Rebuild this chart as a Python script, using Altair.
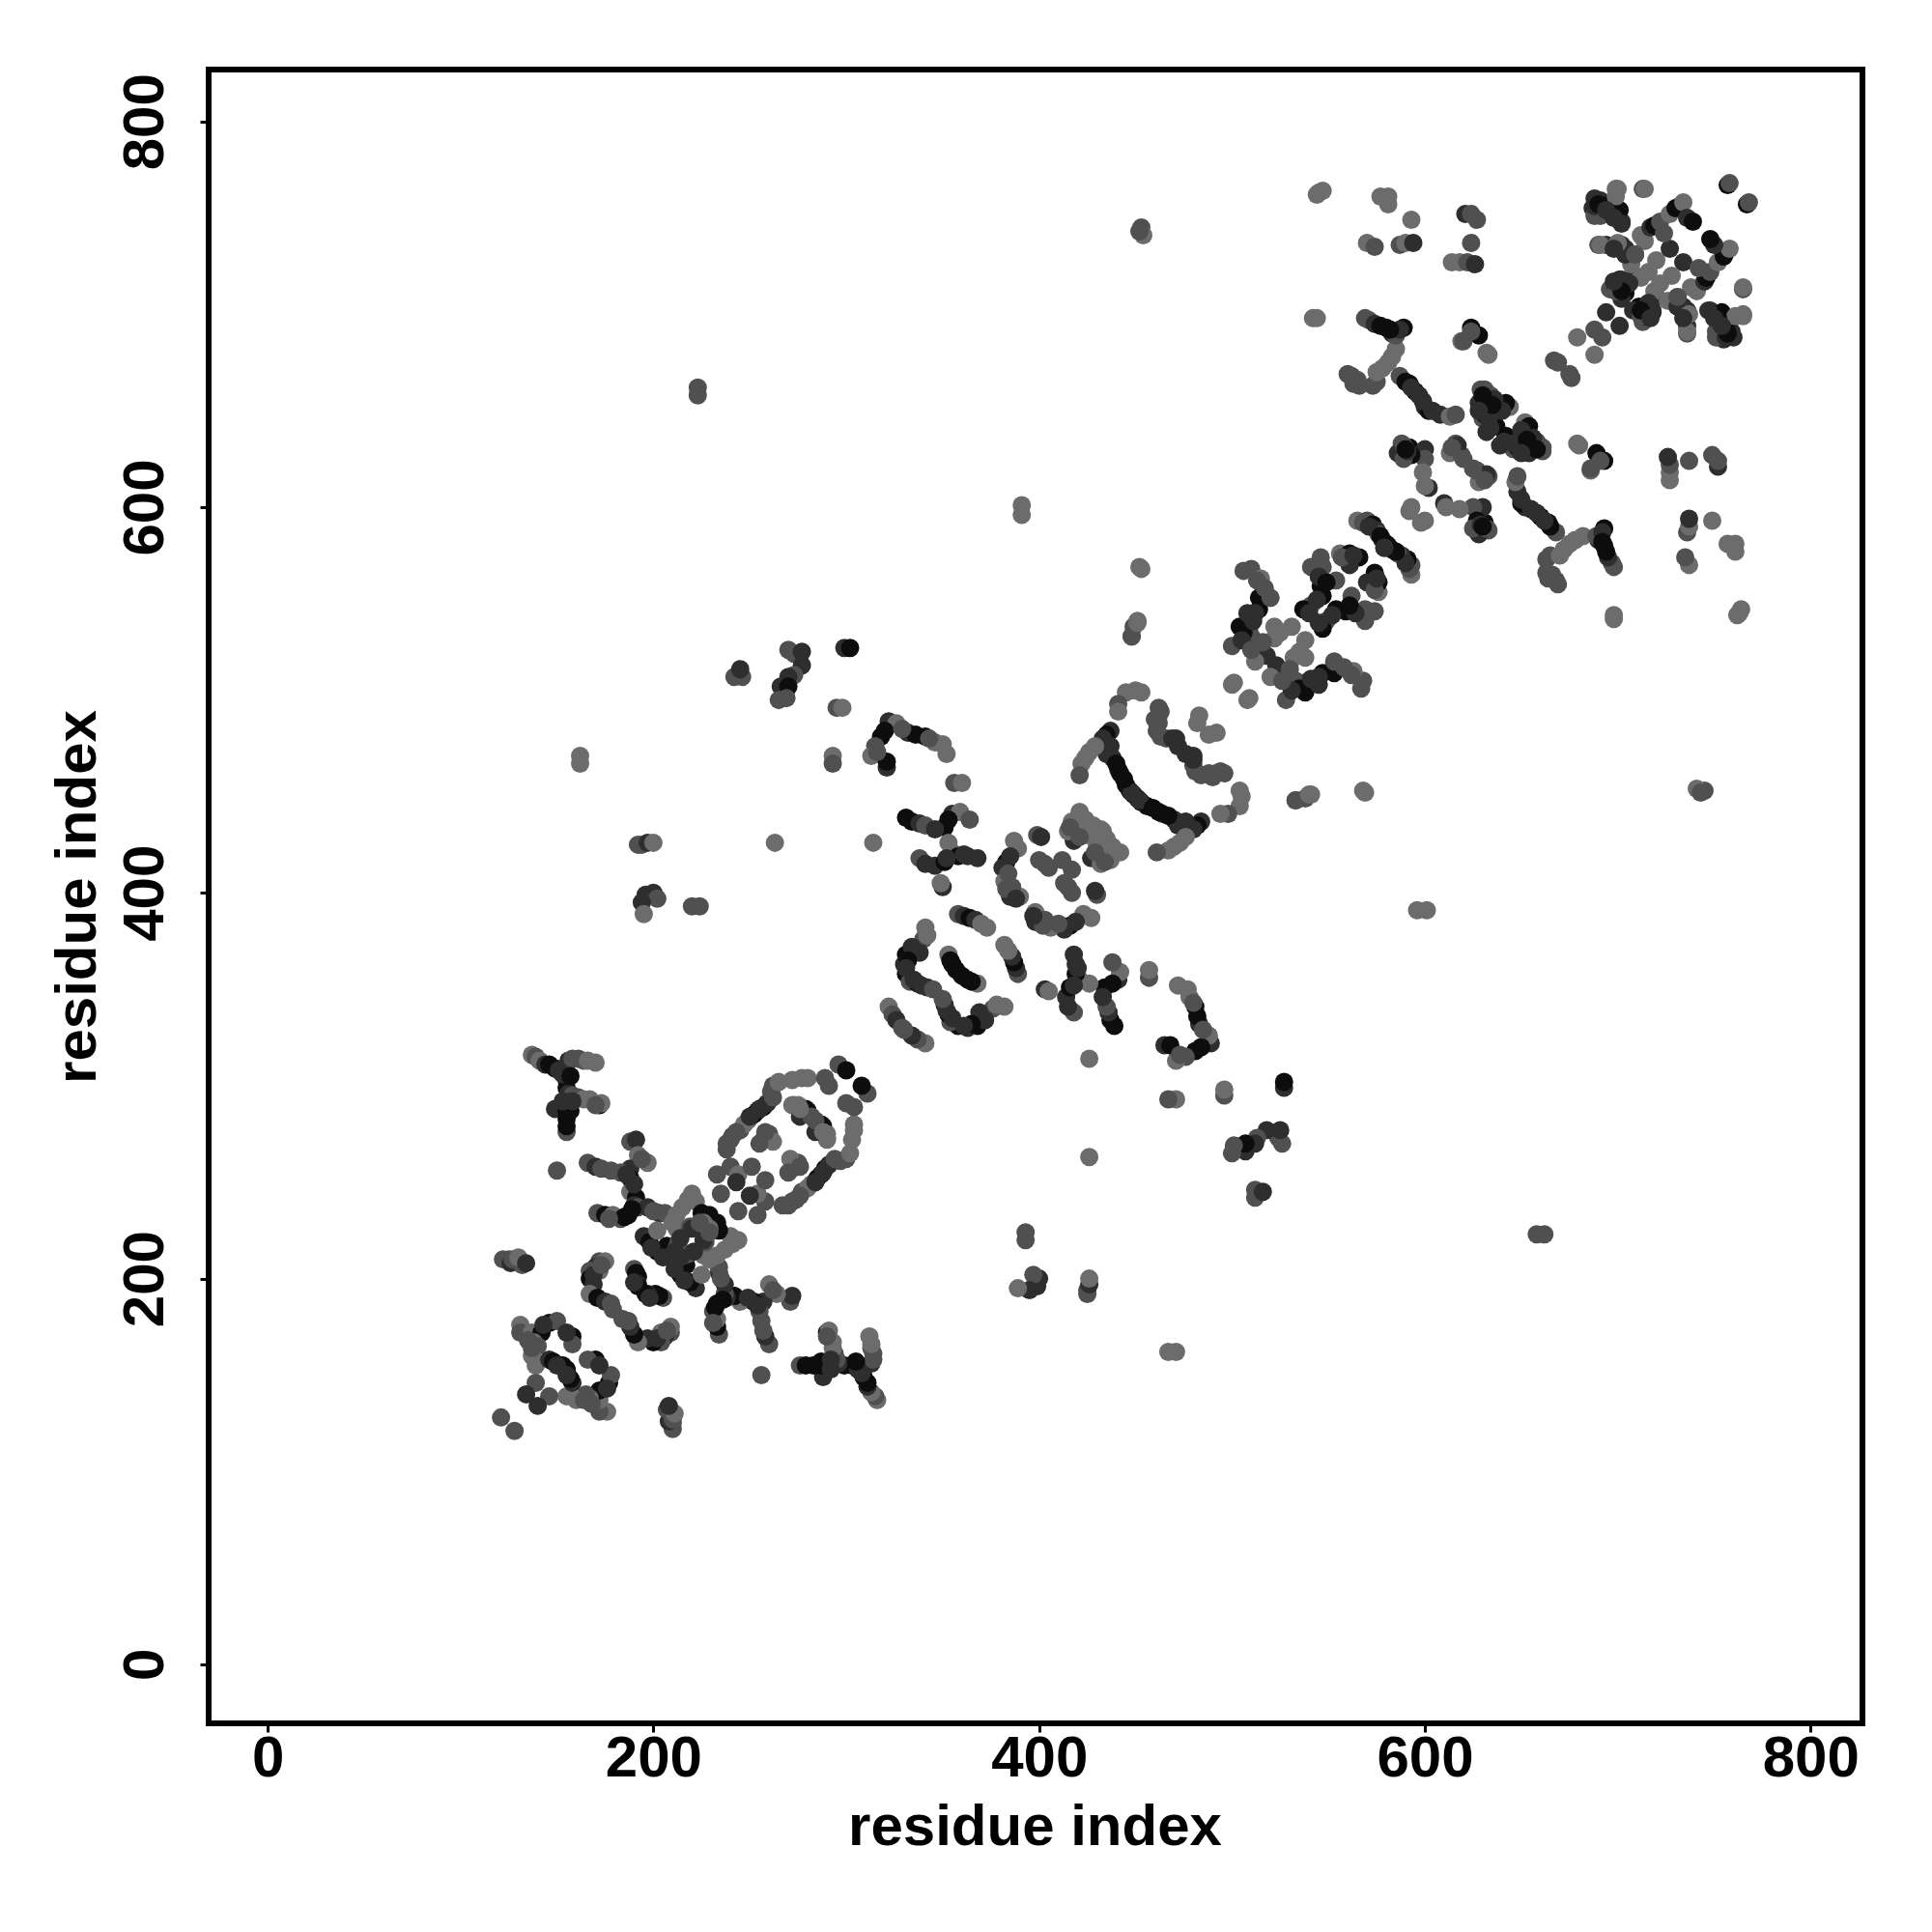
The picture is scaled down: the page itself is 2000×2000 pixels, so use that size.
import altair as alt
import pandas as pd

# Contact map: each contact (residue i, residue j, shade class) read for i < j; the map holds both (i,j) and (j,i).
tick_values = [0, 200, 400, 600, 800]
shades = {0: "#0d0d0d", 1: "#2e2e2e", 2: "#505050", 3: "#6c6c6c"}

low_diagonal = [
    (131,176,3),(131,172,2),(137,172,3),(142,172,0),(146,177,0),(150,178,2),(138,167,3),(140,165,2),
    (158,170,0),(158,166,2),(137,160,3),(139,155,3),(146,158,1),(148,157,0),(152,155,0),(155,153,0),
    (139,146,2),(134,140,1),(121,128,2),(135,168,2),(137,164,2),(143,176,1),(155,172,1),(150,155,1),
]
left_group = [(122,210,2),(125,210,2),(126,208,1),(127,210,2),(132,207,2),(130,211,3),(134,208,1)]
t_shape_a = [
    (137,316,3),(139,315,2),(141,313,3),(144,311,1),(146,311,0),(149,309,0),(151,308,1),(155,307,0),
    (156,313,1),(158,314,2),(161,314,2),(164,313,2),(166,313,3),(170,312,3),(155,303,0),(155,299,0),
    (156,296,1),(158,295,2),(161,294,2),(164,293,3),(167,293,3),(172,290,0),(173,291,3),(149,288,1),
    (152,288,1),(155,276,2),(155,287,0),(157,287,0),(155,283,0),(155,279,0),(150,256,2),(153,306,1),
    (157,305,0),(153,292,1),(158,292,1),(170,290,2),
]
t_shape_b = [
    (188,271,2),(191,272,1),(192,264,3),(197,260,3),(188,257,1),(188,252,0),(166,260,2),(170,258,1),
    (173,257,2),(178,256,2),(183,255,2),(188,245,3),(191,242,0),(190,238,1),(187,233,0),(192,237,2),
    (197,237,1),(203,234,1),(206,234,2),(171,234,2),(175,233,0),(179,233,3),(183,231,2),(185,232,0),
    (186,254,1),(190,249,1),(194,262,2),(189,236,0),(200,235,2),(177,231,2),
]
center_diagonal = [
    (195,222,1),(198,219,0),(202,225,3),(207,217,0),(202,214,0),(205,211,1),(210,229,3),(212,226,3),
    (212,233,3),(215,237,3),(218,241,3),(220,244,3),(222,240,3),(219,227,2),(225,234,0),(229,233,0),
    (213,219,2),(216,212,2),(226,220,1),(221,214,1),(229,226,3),(224,229,2),(199,216,1),(211,214,1),
]
curve_d = [
    (172,209,2),(175,209,3),(170,206,1),(167,204,2),(172,204,3),(167,200,0),(169,197,1),(167,192,3),
    (171,190,0),(175,188,1),(178,187,2),(179,184,2),(190,205,2),(191,203,0),(192,201,0),(192,197,1),
    (196,192,0),(198,190,1),(169,202,1),(173,207,2),
]
first_loop = [
    (238,267,2),(238,270,2),(241,274,2),(245,277,2),(247,280,3),(249,282,3),(252,285,0),(254,287,0),
    (257,289,0),(259,291,1),(262,294,2),(262,300,2),(272,303,3),(277,304,3),(280,304,3),(272,290,3),
    (277,288,0),(279,288,0),(287,280,0),(290,273,3),(289,304,2),(291,300,2),(296,311,2),(300,308,0),
    (257,272,2),(260,275,2),(262,271,3),(233,254,2),(240,258,2),(244,254,3),(251,258,2),(235,244,2),
    (243,250,1),(276,284,1),(284,282,2),(240,272,2),(243,276,2),(250,284,1),(255,288,1),(261,297,2),
    (265,302,3),(275,290,3),(288,276,3),(258,276,2),(255,270,2),
]
far_upper_left = [
    (162,471,3),(162,467,3),(192,425,2),(194,425,2),(197,426,1),(200,426,3),(196,399,1),(200,400,1),
    (202,397,2),(194,395,1),(195,389,3),(220,393,2),(224,393,2),(263,426,3),(314,426,3),(293,471,3),
    (293,467,2),(295,496,2),(298,496,3),(242,512,2),(246,512,2),(245,516,1),(270,526,2),(273,524,2),
    (277,525,1),(277,518,1),(273,513,2),(270,512,1),(266,507,1),(270,507,0),(265,500,2),(269,501,2),
    (299,527,1),(302,527,0),(223,662,2),(223,658,2),(391,601,3),(391,596,3),
]
curve_j = [
    (322,489,1),(326,488,3),(318,481,0),(315,476,2),(313,471,3),(321,465,1),(321,468,0),(332,483,1),
    (336,482,0),(341,481,0),(346,478,3),(350,477,3),(352,472,3),(356,457,2),(360,457,3),(320,484,0),
    (316,473,2),(329,485,2),(343,480,2),
]
group_k = [
    (331,439,0),(334,437,0),(338,436,1),(341,435,2),(351,434,0),(355,441,1),(359,442,3),(364,438,2),
    (353,426,3),(338,418,2),(341,415,1),(346,414,1),(351,416,0),(355,421,3),(358,419,0),(361,420,1),
    (368,418,1),(350,403,1),(349,405,3),(353,438,0),(352,418,1),(346,433,1),(363,419,1),
]
second_loop = [
    (387,427,3),(389,423,3),(383,416,0),(381,413,1),(382,406,3),(385,398,1),(390,398,3),(386,403,2),
    (399,430,2),(401,429,1),(400,417,2),(403,415,2),(405,413,2),(412,417,2),(421,442,3),(417,437,3),
    (424,438,3),(428,435,3),(418,427,1),(415,432,3),(423,436,3),(416,434,2),(425,430,3),(385,419,1),
    (384,410,2),(383,402,2),(388,397,1),(421,429,2),(432,433,3),
]
third_loop = [
    (341,382,3),(340,376,2),(338,369,1),(331,368,0),(330,363,1),(331,358,0),(333,354,2),(337,353,0),
    (342,351,1),(353,368,3),(355,363,0),(357,360,0),(322,341,3),(324,337,2),(326,334,1),(329,330,2),
    (358,389,2),(361,388,1),(364,387,0),(367,386,1),(370,384,3),(373,382,3),(334,372,1),(332,365,0),
    (331,361,1),(335,355,1),(339,352,1),(345,350,2),(354,365,0),(342,378,3),
]
band_q = [
    (445,504,3),(450,505,3),(453,504,3),(441,498,2),(441,494,3),(437,484,1),(435,482,0),(433,480,1),
    (426,473,3),(424,470,3),(422,467,3),(421,461,2),(435,472,1),(437,476,1),(438,470,1),(441,464,1),
    (442,462,0),(445,456,0),(447,453,0),(449,451,0),(452,448,1),(462,496,2),(462,492,2),(462,488,2),
    (461,484,2),(463,481,2),(466,480,2),(469,480,1),(471,480,1),(472,476,1),(483,492,3),(482,488,3),
    (500,508,3),(501,509,3),(452,569,3),(453,568,3),(451,541,3),(449,538,2),(448,533,2),(453,745,2),
    (454,741,3),(452,743,2),(429,476,3),(444,459,0),(440,467,0),(460,490,2),(463,494,2),
]
group_r = [
    (500,528,2),(504,538,0),(509,538,0),(510,533,2),(506,567,2),(510,568,2),(515,563,3),(519,553,3),
    (514,553,0),(514,547,0),(512,545,1),(508,545,1),(522,538,3),(531,538,3),(522,532,3),(518,523,1),
    (512,520,3),(506,535,0),(505,531,1),(513,562,2),(520,553,2),(511,541,1),(517,558,2),(516,530,2),
    (510,526,2),(525,535,3),
]
group_s = [
    (541,569,2),(546,574,2),(547,569,2),(556,576,3),(561,576,0),(566,574,0),(554,562,2),(546,559,0),
    (547,554,0),(541,549,2),(537,547,0),(561,570,1),(546,571,2),(557,574,2),(545,564,1),(540,545,1),
    (549,561,0),(563,575,1),(544,552,1),
]
group_t = [
    (565,593,3),(568,592,2),(570,593,2),(573,591,0),(575,588,1),(576,586,2),(578,583,1),(580,581,0),
    (592,598,3),(533,448,2),(540,451,3),(571,590,1),(577,585,0),(579,579,1),
]
band_y = [
    (560,669,2),(562,668,2),(565,666,2),(566,663,2),(573,663,2),(575,665,2),(575,670,3),(578,672,3),
    (583,678,3),(585,682,3),(587,668,2),(590,665,0),(592,664,0),(595,660,0),(597,658,1),(600,652,1),
    (602,650,0),(608,648,1),(613,647,3),(616,648,2),(569,698,2),(571,697,2),(574,695,1),(577,694,0),
    (580,693,0),(583,690,1),(585,689,2),(589,693,0),(587,692,1),(544,698,3),(542,698,3),(545,763,3),
    (544,762,3),(581,675,3),(593,662,1),(599,655,1),(604,650,1),(582,692,0),(563,664,2),
]
group_w = [
    (588,633,2),(592,631,0),(586,628,1),(592,627,3),(600,630,1),(600,625,2),(599,618,3),(602,610,1),
    (600,611,3),(616,633,2),(613,628,3),(619,627,2),(593,600,3),(593,627,0),(589,632,2),(589,625,2),
    (591,629,1),(617,632,1),(620,625,2),(590,630,0),(614,631,2),
]
group_v = [
    (629,661,2),(634,658,2),(628,654,1),(632,651,0),(644,652,3),(642,654,0),(637,642,0),(630,646,2),
    (632,639,1),(634,641,1),(631,661,2),(631,648,0),(636,656,1),(640,650,1),(633,646,1),(630,658,0),
    (635,653,0),(628,650,1),
]
upper_right_off = [
    (577,761,3),(581,761,3),(581,757,3),(593,749,3),(570,737,3),(574,735,2),(587,736,2),(590,737,3),
    (594,737,1),(621,752,1),(624,752,2),(627,749,2),(624,737,2),(614,727,3),(618,727,3),(622,727,2),
    (626,726,1),(624,693,0),(628,689,0),(624,691,2),(619,686,3),(632,680,3),(620,686,2),(633,679,3),
    (667,676,2),(669,675,2),(679,688,3),(547,764,3),
]
top_corner = [
    (688,760,1),(687,755,1),(691,759,1),(692,753,0),(688,751,2),(696,757,0),(702,748,1),(701,754,0),
    (699,765,3),(699,761,3),(713,765,2),(690,736,2),(694,736,1),(702,736,1),(704,734,1),(704,731,2),
    (709,731,2),(714,738,3),(712,741,3),(727,734,1),(717,745,1),(719,746,0),(722,748,2),(727,752,3),
    (730,755,0),(732,756,0),(734,758,3),(736,750,1),(739,748,0),(701,718,0),(696,713,2),(704,711,0),
    (709,720,1),(712,719,3),(694,701,1),(720,728,3),(716,722,3),(707,726,3),(699,714,0),(757,767,0),
    (758,768,2),(700,765,3),(714,765,3),(708,702,1),(712,699,2),(718,702,1),(731,704,1),(731,709,2),
    (737,700,3),(736,691,3),(747,702,1),(752,698,0),(751,691,2),(756,688,1),(692,688,2),(690,757,0),
    (694,754,1),(698,750,1),(698,734,1),(706,716,1),(702,712,0),(698,717,1),(724,742,2),
]

regions = [
    low_diagonal, left_group, t_shape_a, t_shape_b, center_diagonal, curve_d, first_loop, far_upper_left,
    curve_j, group_k, second_loop, third_loop, band_q, group_r, group_s, group_t, band_y, group_w, group_v,
    upper_right_off, top_corner,
]

rows = []
for region in regions:
    for i, j, tone in region:
        rows.append({"x": i, "y": j, "shade": shades[tone]})
        rows.append({"x": j, "y": i, "shade": shades[tone]})
table = pd.DataFrame(rows)
table["order"] = range(len(table))

FONT = "Liberation Sans"
dom = [-30.6, 826.9]

x_axis = alt.Axis(
    values=tick_values, title="residue index", grid=False, domain=False,
    tickSize=9, tickWidth=3, tickColor="black",
    labelFont=FONT, labelFontSize=60, labelFontWeight="bold", labelColor="black",
    labelBaseline="alphabetic", labelPadding=45, labelOverlap=False, labelFlush=False,
    titleFont=FONT, titleFontSize=60, titleFontWeight="bold", titleColor="black",
    titleBaseline="alphabetic", titleX=855, titleY=125, titleAlign="center",
)
y_axis = alt.Axis(
    values=tick_values, title="residue index", grid=False, domain=False,
    tickSize=9, tickWidth=3, tickColor="black",
    labelFont=FONT, labelFontSize=60, labelFontWeight="bold", labelColor="black",
    labelAngle=270, labelAlign="center", labelBaseline="alphabetic", labelPadding=39,
    labelOverlap=False, labelFlush=False,
    titleFont=FONT, titleFontSize=60, titleFontWeight="bold", titleColor="black",
    titleAngle=270, titleBaseline="alphabetic", titleAlign="center", titleX=-118, titleY=856,
)

chart = (
    alt.Chart(table)
    .mark_circle(size=360, opacity=1)
    .encode(
        x=alt.X("x:Q", scale=alt.Scale(domain=dom, nice=False, zero=False), axis=x_axis),
        y=alt.Y("y:Q", scale=alt.Scale(domain=dom, nice=False, zero=False), axis=y_axis),
        color=alt.Color("shade:N", scale=None),
        order=alt.Order("order:Q"),
    )
    .properties(
        width=1712, height=1712,
        autosize=alt.AutoSizeParams(type="none"),
        padding={"left": 208, "top": 64, "right": 60, "bottom": 200},
        background="white",
    )
    .configure_view(stroke="black", strokeWidth=6, fill="white")
)

chart.save("out.html", embed_options={"renderer": "svg", "actions": False})
